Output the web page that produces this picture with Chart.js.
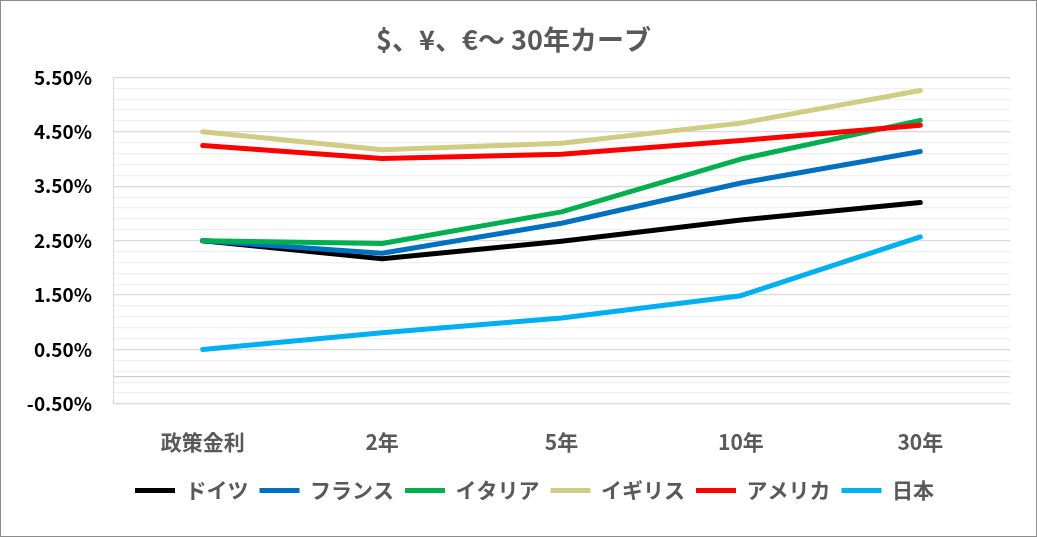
<!DOCTYPE html>
<html lang="ja">
<head>
<meta charset="utf-8">
<script src="https://cdn.jsdelivr.net/npm/chart.js@4/dist/chart.umd.min.js"></script>
<style>
  html, body { margin: 0; padding: 0; background: #fff; }
  #wrap { width: 1037px; height: 537px; box-sizing: border-box; border: 1px solid #8c8c8c; background: #fff; }
</style>
</head>
<body>
<div id="wrap"><canvas id="curve"></canvas></div>
<script>
// 満期区分
var terms = ["政策金利", "2年", "5年", "10年", "30年"];

// 国別の利回り (%)
var germany = [2.50, 2.17, 2.49, 2.88, 3.20];
var france  = [2.50, 2.27, 2.82, 3.56, 4.14];
var italy   = [2.50, 2.45, 3.03, 4.00, 4.71];
var uk      = [4.50, 4.17, 4.29, 4.66, 5.26];
var usa     = [4.25, 4.01, 4.09, 4.34, 4.62];
var japan   = [0.50, 0.81, 1.08, 1.49, 2.57];

var names  = ["ドイツ", "フランス", "イタリア", "イギリス", "アメリカ", "日本"];
var series = [germany, france, italy, uk, usa, japan];
var colors = ["#000000", "#0070C0", "#00B050", "#D0CC84", "#FF0000", "#00B0F0"];

// 軸の目盛り
var yMin = -0.5, yMax = 5.5, minorStep = 0.2;

var font = "'Noto Sans CJK JP', 'Noto Sans', sans-serif";

var datasets = [];
for (var i = 0; i < series.length; i++) {
	datasets.push({
		label: names[i],
		data: series[i],
		borderColor: colors[i],
		backgroundColor: colors[i],
		borderWidth: 5,
		borderCapStyle: "round",
		borderJoinStyle: "round",
		pointRadius: 0,
		pointHoverRadius: 0,
		tension: 0,
		order: series.length - i   // 後の系列を上に描く
	});
}

function isMajor(v) {
	var k = Math.round((v - yMin) * 10);
	return k % 10 === 0;
}

// タイトルと凡例を少し右へ寄せる (Excel の配置に合わせる)
var boxShift = {
	id: "boxShift",
	afterLayout: function (chart) {
		if (chart.legend) chart.legend.left += 58;
		if (chart.titleBlock) chart.titleBlock.left += 16;
	}
};

var chart = new Chart(document.getElementById("curve"), {
	type: "line",
	data: { labels: terms, datasets: datasets },
	plugins: [boxShift],
	options: {
		responsive: true,
		maintainAspectRatio: false,
		animation: false,
		layout: { padding: { left: 0, right: 26, top: 0, bottom: 25 } },
		plugins: {
			title: {
				display: true,
				text: "$、¥、€～ 30年カーブ",
				color: "#595959",
				font: { family: font, size: 27, weight: "bold" },
				padding: { top: 23, bottom: 21 }
			},
			legend: {
				position: "bottom",
				labels: {
					color: "#595959",
					font: { family: font, size: 21, weight: "bold" },
					usePointStyle: true,
					pointStyle: "line",
					pointStyleWidth: 40,
					padding: 11,
					sort: function (a, b) { return a.datasetIndex - b.datasetIndex; }
				}
			},
			tooltip: { enabled: false }
		},
		scales: {
			x: {
				offset: true,
				grid: { display: false },
				border: { display: false },
				ticks: {
					color: "#595959",
					font: { family: font, size: 21, weight: "bold" },
					padding: 17
				},
				afterFit: function (scale) { scale.height = 65; }
			},
			y: {
				min: yMin,
				max: yMax,
				afterBuildTicks: function (scale) {
					var t = [];
					for (var k = 0; k <= Math.round((yMax - yMin) / minorStep); k++) {
						t.push({ value: Math.round((yMin + k * minorStep) * 10) / 10 });
					}
					t.push({ value: 0 });
					t.sort(function (a, b) { return a.value - b.value; });
					scale.ticks = t;
				},
				afterFit: function (scale) { scale.width = 112; },
				grid: {
					drawTicks: false,
					color: function (c) {
						var v = c.tick ? c.tick.value : 0;
						if (Math.abs(v) < 1e-9) return "#d0d0d0";
						return isMajor(v) ? "#d9d9d9" : "#f0f0f0";
					},
					lineWidth: 1.3
				},
				border: { display: true, color: "#d9d9d9", width: 1 },
				ticks: {
					autoSkip: false,
					color: "#000000",
					font: { family: font, size: 19, weight: "bold" },
					padding: 21,
					callback: function (v) {
						return isMajor(v) ? v.toFixed(2) + "%" : "";
					}
				}
			}
		}
	}
});
</script>
</body>
</html>
